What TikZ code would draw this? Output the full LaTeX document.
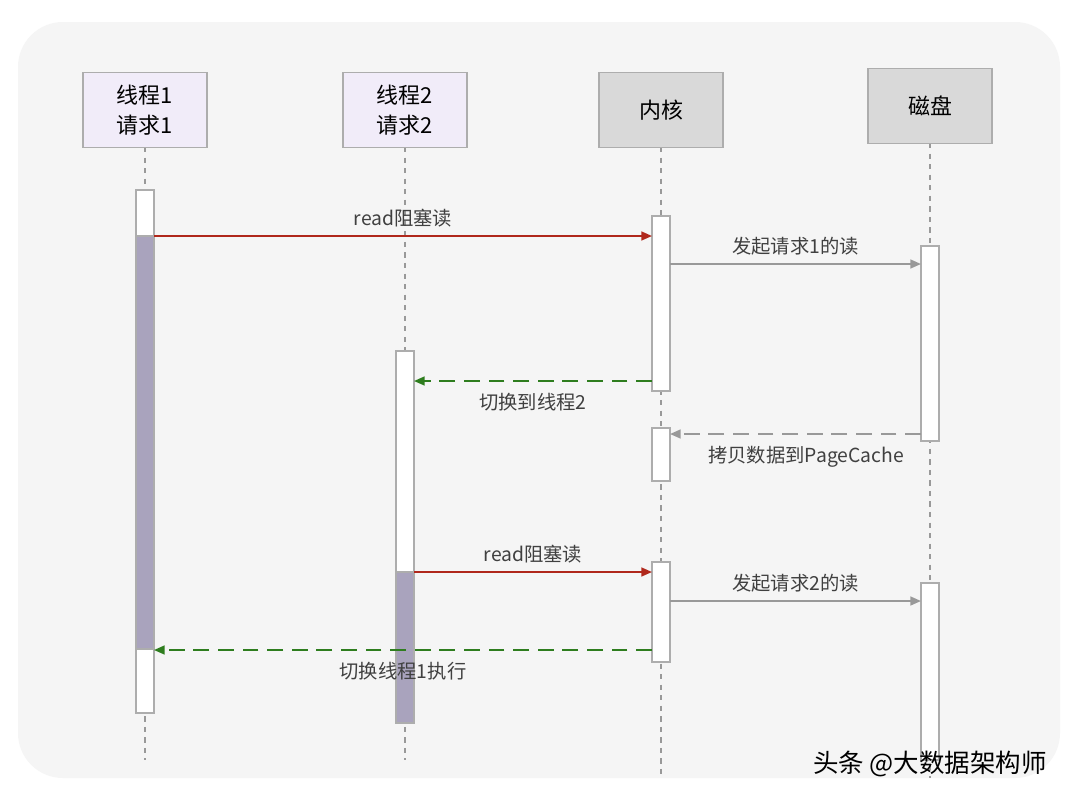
\documentclass[tikz,border=0pt]{standalone}
\usepackage{fontspec}
\setmainfont{Noto Sans CJK SC}
\usetikzlibrary{arrows.meta}
\definecolor{bg}{HTML}{F5F5F5}
\definecolor{lav}{HTML}{F1ECF9}
\definecolor{hdr}{HTML}{D9D9D9}
\definecolor{busy}{HTML}{A9A3BD}
\definecolor{rd}{HTML}{B0281C}
\definecolor{gr}{HTML}{2E7D1E}
\definecolor{gy}{HTML}{999999}
\begin{document}
\begin{tikzpicture}[x=0.02cm,y=-0.02cm,
  hbox/.style={draw=gy!80,line width=0.6pt,minimum width=2.48cm,minimum height=1.5cm,align=center,font=\fontsize{12.5}{17}\selectfont},
  life/.style={draw=gy,dashed,line width=0.6pt},
  act/.style={draw=gy!80,fill=white,line width=0.6pt},
  lbl/.style={font=\fontsize{11}{13}\selectfont,text=black!75},
  msg/.style={line width=1pt,-{Triangle[length=6pt,width=5pt]}}]
\useasboundingbox (0,0) rectangle (1080,799);
\fill[white] (0,0) rectangle (1080,799);
\fill[bg,rounded corners=0.9cm] (18,22) rectangle (1060,778);
% lifelines
\draw[life] (145,147) -- (145,760);
\draw[life] (405,147) -- (405,760);
\draw[life] (661,147) -- (661,778);
\draw[life] (930,143) -- (930,778);
% headers
\node[hbox,fill=lav] (t1) at (145,110) {线程1\\请求1};
\node[hbox,fill=lav] (t2) at (405,110) {线程2\\请求2};
\node[hbox,fill=hdr] (k) at (661,110) {内核};
\node[hbox,fill=hdr] (d) at (930,106) {磁盘};
% activations
\draw[act] (136,190) rectangle (154,713);
\draw[gy!80,fill=busy,line width=0.6pt] (136,236) rectangle (154,649);
\draw[act] (396,351) rectangle (414,723);
\draw[gy!80,fill=busy,line width=0.6pt] (396,572) rectangle (414,723);
\draw[act] (652,216) rectangle (670,391);
\draw[act] (652,428) rectangle (670,481);
\draw[act] (652,562) rectangle (670,662);
\draw[act] (921,246) rectangle (939,441);
\draw[act] (921,583) rectangle (939,760);
% messages
\coordinate (a1) at (154,236); \coordinate (b1) at (652,236);
\draw[msg,rd] (a1) -- node[lbl,above=1pt]{read阻塞读} (b1);
\coordinate (a2) at (670,264); \coordinate (b2) at (921,264);
\draw[msg,gy] (a2) -- node[lbl,above=1pt]{发起请求1的读} (b2);
\coordinate (a3) at (652,381); \coordinate (b3) at (414,381);
\draw[msg,gr,dashed,dash pattern=on 9pt off 5pt] (a3) -- node[lbl,below=3pt]{切换到线程2} (b3);
\coordinate (a4) at (921,434); \coordinate (b4) at (670,434);
\draw[msg,gy,dashed,dash pattern=on 9pt off 5pt] (a4) -- node[lbl,below=3pt,xshift=6pt]{拷贝数据到PageCache} (b4);
\coordinate (a5) at (414,572); \coordinate (b5) at (652,572);
\draw[msg,rd] (a5) -- node[lbl,above=1pt]{read阻塞读} (b5);
\coordinate (a6) at (670,601); \coordinate (b6) at (921,601);
\draw[msg,gy] (a6) -- node[lbl,above=1pt]{发起请求2的读} (b6);
\coordinate (a7) at (652,650); \coordinate (b7) at (154,650);
\draw[msg,gr,dashed,dash pattern=on 9pt off 5pt] (a7) -- node[lbl,below=3pt]{切换线程1执行} (b7);
\node[font=\fontsize{14.5}{16}\selectfont,text=black] (wm) at (930,764) {头条 @大数据架构师};
\end{tikzpicture}
\end{document}
